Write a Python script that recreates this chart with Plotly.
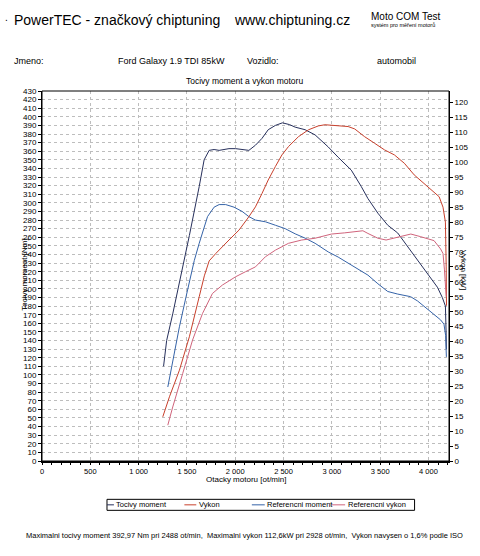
import plotly.graph_objects as go

# engine speed / values read from the dyno sheet
rpm_torque = [1258, 1290, 1353, 1439, 1525, 1627, 1678, 1730, 1781, 1833, 1935, 2004, 2089, 2141,
              2209, 2277, 2341, 2415, 2488, 2560, 2620, 2723, 2826, 2962, 3065, 3201, 3304, 3373,
              3476, 3578, 3681, 3784, 3886, 3989, 4092, 4143, 4175, 4182, 4185]
torque = [110, 140, 171, 215, 262, 319, 350, 361, 362, 361, 363, 363, 362, 361,
          367, 375, 385, 390, 393, 391, 388, 385, 379, 365, 353, 338, 319, 305,
          288, 274, 265, 249, 233, 218, 202, 190, 180, 150, 130]

rpm_power = [1250, 1319, 1422, 1525, 1627, 1680, 1730, 1799, 1935, 2038, 2141, 2209, 2277, 2341,
             2415, 2483, 2551, 2654, 2757, 2859, 2928, 3065, 3168, 3236, 3339, 3442, 3544, 3647,
             3750, 3852, 3955, 4057, 4110, 4150, 4175, 4183, 4186]
power = [14.8, 21.5, 30.4, 41.6, 55.0, 62.0, 67.0, 69.5, 74.0, 77.3, 81.8, 85.1, 89.6, 94.1,
         98.6, 102.5, 105.3, 108.6, 110.9, 112.2, 112.6, 112.4, 112.0, 111.2, 108.6, 106.4, 104.2, 102.5,
         99.7, 95.8, 93.0, 90.0, 88.5, 85.0, 80.0, 65.0, 52.0]

rpm_ref_torque = [1302, 1353, 1422, 1491, 1576, 1627, 1713, 1781, 1833, 1901, 1987, 2072, 2141, 2209,
                  2312, 2415, 2517, 2620, 2723, 2826, 2962, 3065, 3168, 3270, 3373, 3476, 3578, 3681,
                  3814, 3886, 4023, 4125, 4160, 4177, 4185]
ref_torque = [86, 117, 156, 191, 233, 253, 284, 295, 298, 298, 295, 290, 284, 280,
              278, 274, 270, 264, 259, 253, 243, 237, 230, 224, 216, 206, 197, 194,
              191, 186, 174, 164, 159, 146, 121]

rpm_ref_power = [1302, 1353, 1456, 1558, 1661, 1764, 1866, 2004, 2107, 2209, 2312, 2415, 2551, 2688,
                 2826, 2996, 3133, 3236, 3321, 3373, 3476, 3561, 3647, 3732, 3817, 3920, 4057, 4125,
                 4150, 4165, 4183]
ref_power = [12.0, 18.1, 29.3, 40.5, 49.4, 56.1, 58.9, 61.7, 63.4, 65.0, 68.4, 70.6, 72.9, 74.0,
             74.6, 76.0, 76.4, 76.8, 77.1, 76.2, 74.6, 74.0, 74.6, 75.3, 76.0, 75.1, 73.8, 71.0,
             69.5, 64.0, 55.0]

x_ticks = [0, 500, 1000, 1500, 2000, 2500, 3000, 3500, 4000]

FONT = "Liberation Sans, Arial, sans-serif"
W, H = 480, 556
L, R, T, B = 41.5, 451.7, 91, 460.7


def px(x):
    return (x - L) / (R - L)


def py(y):
    return (B - y) / (B - T)


series = [
    ("Tocivy moment", rpm_torque, torque, "y", "#27305c"),
    ("Vykon", rpm_power, power, "y2", "#c8402c"),
    ("Referencni moment", rpm_ref_torque, ref_torque, "y", "#3563a8"),
    ("Referencni vykon", rpm_ref_power, ref_power, "y2", "#d0647c"),
]

fig = go.Figure()
for name, xs, ys, axis, color in series:
    fig.add_trace(go.Scatter(x=xs, y=ys, name=name, mode="lines", yaxis=axis,
                             line=dict(color=color, width=1), showlegend=False))

fig.update_layout(
    width=W, height=H,
    margin=dict(l=L, r=W - R, t=T, b=H - B, pad=0),
    paper_bgcolor="white", plot_bgcolor="white",
    font=dict(family=FONT, size=8, color="black"),
    separators=", ",
    xaxis=dict(range=[0, 4212], tickvals=x_ticks, separatethousands=True,
               showline=True, linecolor="black", linewidth=2,
               ticks="outside", ticklen=2, tickcolor="black",
               minor=dict(dtick=100, ticks="outside", ticklen=2, tickcolor="black", showgrid=False),
               showgrid=True, gridcolor="#bdbdbd", griddash="dot", gridwidth=1,
               zeroline=False, tickfont=dict(size=7.5)),
    yaxis=dict(range=[0, 430], dtick=10, showline=True, linecolor="black", linewidth=1,
               ticks="outside", ticklen=3, tickcolor="black",
               showgrid=True, gridcolor="#bdbdbd", griddash="dot", gridwidth=1,
               zeroline=False, tickfont=dict(size=8)),
    yaxis2=dict(range=[0, 123.9], dtick=5, overlaying="y", side="right",
                showline=True, linecolor="black", linewidth=1,
                ticks="outside", ticklen=3, tickcolor="black",
                showgrid=False, zeroline=False, tickfont=dict(size=8)),
)

fig.add_shape(type="rect", xref="paper", yref="paper", x0=0, x1=1, y0=0, y1=1,
              line=dict(color="black", width=1))


def note(text, x, y, size, anchor="left", **kw):
    fig.add_annotation(text=text, x=px(x), y=py(y), xref="paper", yref="paper",
                       xanchor=anchor, yanchor="middle", showarrow=False,
                       font=dict(size=size, family=FONT, color="black"), **kw)


# legend box below the chart, like the dyno printout
fig.add_shape(type="rect", xref="paper", yref="paper", x0=px(107), x1=px(417), y0=py(510), y1=py(499),
              line=dict(color="black", width=1), fillcolor="white")
legend_x = [107, 185, 253, 333]
legend_len = [7, 12, 13, 14]
for (name, _, _, _, color), lx, ln in zip(series, legend_x, legend_len):
    fig.add_shape(type="line", xref="paper", yref="paper", x0=px(lx), x1=px(lx + ln),
                  y0=py(504.5), y1=py(504.5), line=dict(color=color, width=1))
    note(name, lx + ln + 0.5, 504.5, 7.5)

note(".", 2, 18, 10)
note("PowerTEC - značkový chiptuning", 11, 20, 14)
note("www.chiptuning.cz", 233, 20, 14)
note("Moto COM Test", 371, 17, 10)
note("systém pro měření motorů", 371, 25, 5.5)
note("Jmeno:", 11, 61, 9)
note("Ford Galaxy 1.9 TDI 85kW", 116, 61, 9)
note("Vozidlo:", 246, 61, 9)
note("automobil", 377, 61, 9)
note("Tocivy moment a vykon motoru", 246, 81, 8.5, anchor="center")
note("Otacky motoru [ot/min]", 247, 479, 8, anchor="center")
note("Tocivy moment [Nm]", 24, 275, 8, anchor="center", textangle=-90)
note("Vykon [kW]", 467, 270, 8, anchor="center", textangle=90)
note("Maximalni tocivy moment 392,97 Nm pri 2488 ot/min,\u00a0 Maximalni vykon 112,6kW pri 2928 ot/min,"
     "\u00a0 Vykon navysen o 1,6% podle ISO", 246, 535, 7.5, anchor="center")

fig.write_html("out.html", config={"displayModeBar": False},
               post_script="document.body.style.margin='0';")
